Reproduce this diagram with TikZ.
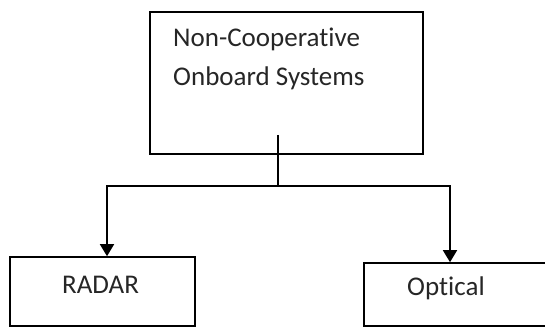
\documentclass[tikz,border=0pt]{standalone}
\usepackage{fontspec}
\setmainfont[RawFeature=-liga]{Carlito}
\usetikzlibrary{arrows.meta,calc}
\begin{document}
\begin{tikzpicture}[x=1pt,y=-1pt,
  boxstyle/.style={draw=black,line width=1.6pt,rectangle,inner sep=0pt},
  lbl/.style={inner sep=0pt,anchor=base west,font=\fontsize{27}{38}\selectfont,text=black!85},
  conn/.style={draw=black,line width=1.6pt},
  arr/.style={conn,-{Triangle[length=12pt,width=14pt]}}]
\useasboundingbox (0,0) rectangle (545,328);
% boxes
\node[boxstyle,minimum width=273pt,minimum height=142pt] (top) at (286.5,83) {};
\node[boxstyle,minimum width=185pt,minimum height=69pt] (radar) at (102.5,291.5) {};
\node[boxstyle,minimum width=184pt,minimum height=63pt] (optical) at (456,294.5) {};
% texts
\node[lbl] (t1) at (173,47) {Non-Cooperative};
\node[lbl] (t2) at (173,86) {Onboard Systems};
\node[lbl] (tr) at (62,293) {RADAR};
\node[lbl] (to) at (407,295) {Optical};
% connectors
\coordinate (stem) at (278,135);
\coordinate (split) at (278,186);
\draw[conn] (stem) -- (split);
\draw[arr] (split) -| ($(radar.north)+(4.5,0)$);
\draw[arr] (split) -| ($(optical.north)+(-6,0)$);
\end{tikzpicture}
\end{document}
